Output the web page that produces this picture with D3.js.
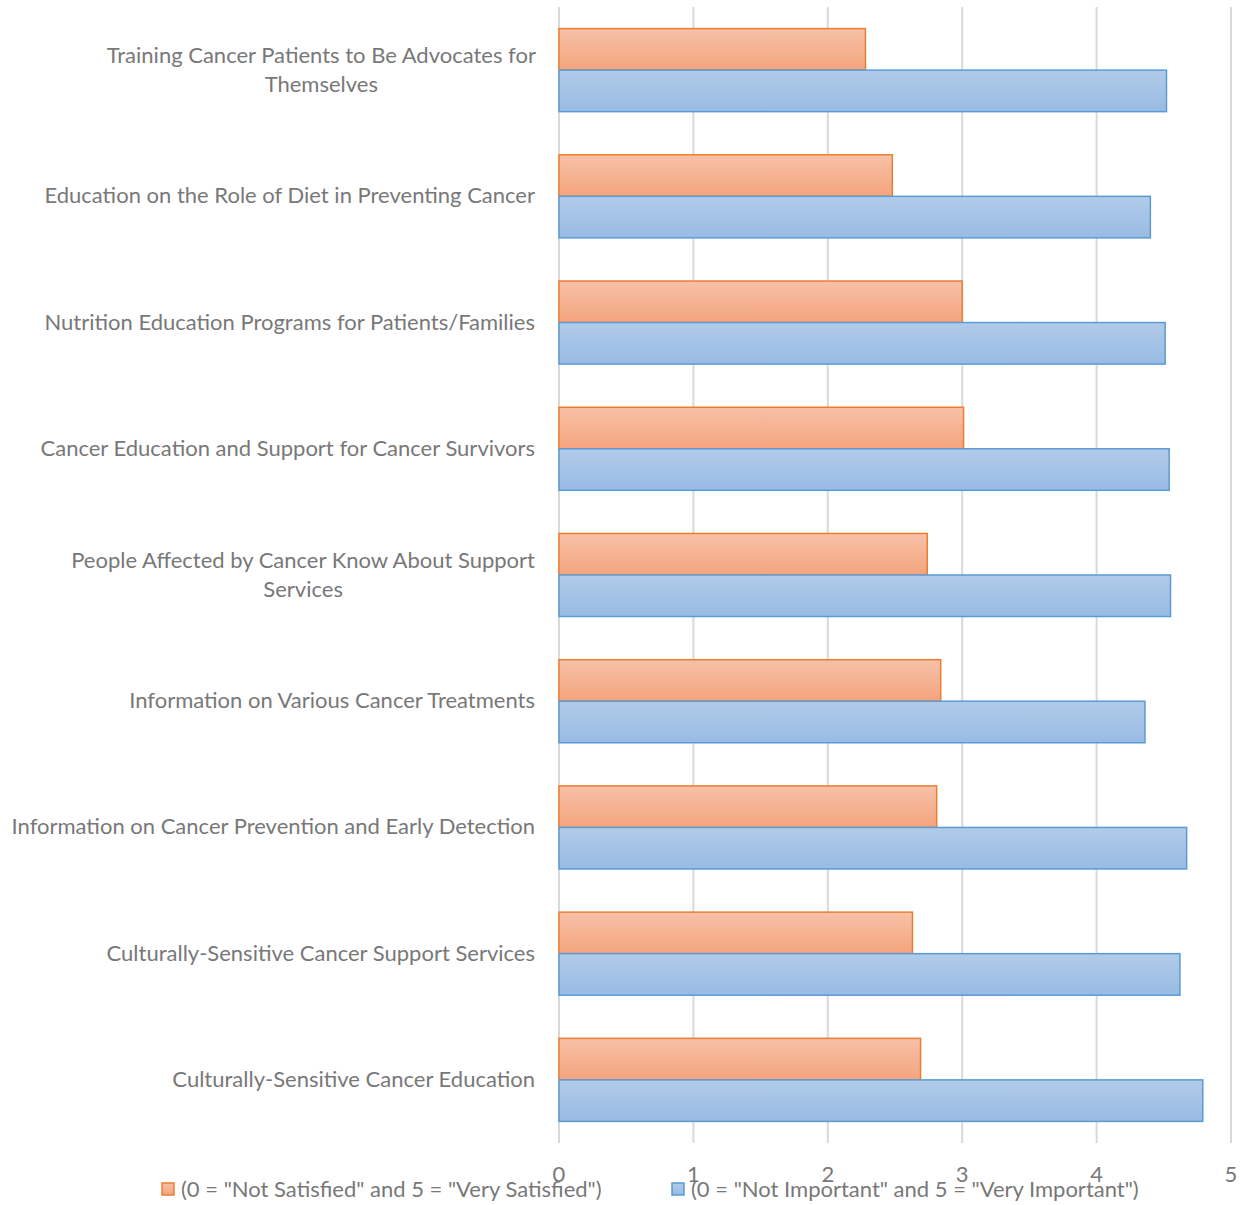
<!DOCTYPE html>
<html>
<head>
<meta charset="utf-8">
<script src="https://cdn.jsdelivr.net/npm/d3@7"></script>
<style>
  body { margin: 0; background: #fff; }
  svg { display: block; }
  text { font-family: Lato, "Open Sans", sans-serif; fill: #787878; }
</style>
</head>
<body>
<svg id="chart" width="1241" height="1205"></svg>
<script>
// categories top to bottom, each label split into its lines
var categories = [
  ["Training Cancer Patients to Be Advocates for", "Themselves"],
  ["Education on the Role of Diet in Preventing Cancer"],
  ["Nutrition Education Programs for Patients/Families"],
  ["Cancer Education and Support for Cancer Survivors"],
  ["People Affected by Cancer Know About Support", "Services"],
  ["Information on Various Cancer Treatments"],
  ["Information on Cancer Prevention and Early Detection"],
  ["Culturally-Sensitive Cancer Support Services"],
  ["Culturally-Sensitive Cancer Education"]
];
var satisfied = [2.28, 2.48, 3.00, 3.01, 2.74, 2.84, 2.81, 2.63, 2.69];
var important = [4.52, 4.40, 4.51, 4.54, 4.55, 4.36, 4.67, 4.62, 4.79];
var seriesNames = [
  '(0 = "Not Satisfied" and 5 = "Very Satisfied")',
  '(0 = "Not Important" and 5 = "Very Important")'
];
var xTicks = [0, 1, 2, 3, 4, 5];

var svg = d3.select("#chart");
var plotL = 559, plotR = 1231, plotT = 7, plotB = 1143;
var fs = 22;

var x = d3.scaleLinear().domain([0, 5]).range([plotL, plotR]);
var y = d3.scaleBand().domain(d3.range(categories.length))
  .range([plotT, plotB]).paddingInner(0.342).paddingOuter(0.171);
var sub = d3.scaleBand().domain([0, 1]).range([0, y.bandwidth()]);

var defs = svg.append("defs");
var grads = [["gOrange", "#f7c1a8", "#f4a47d"], ["gBlue", "#b1cbe9", "#98bbe4"]];
grads.forEach(function(g) {
  var lg = defs.append("linearGradient").attr("id", g[0])
    .attr("x1", 0).attr("y1", 0).attr("x2", 0).attr("y2", 1);
  lg.append("stop").attr("offset", "0%").attr("stop-color", g[1]);
  lg.append("stop").attr("offset", "100%").attr("stop-color", g[2]);
});
var fills = ["url(#gOrange)", "url(#gBlue)"];
var strokes = ["#ed7d31", "#5b9bd5"];

// gridlines
svg.append("g").selectAll("line").data(xTicks).enter().append("line")
  .attr("x1", function(d) { return x(d); }).attr("x2", function(d) { return x(d); })
  .attr("y1", plotT).attr("y2", plotB)
  .attr("stroke", "#d9d9d9").attr("stroke-width", 2);

// bars
var series = [satisfied, important];
series.forEach(function(vals, s) {
  svg.append("g").selectAll("rect").data(vals).enter().append("rect")
    .attr("x", x(0))
    .attr("y", function(d, i) { return y(i) + sub(s); })
    .attr("width", function(d) { return x(d) - x(0); })
    .attr("height", sub.bandwidth())
    .attr("fill", fills[s])
    .attr("stroke", strokes[s]).attr("stroke-width", 1.5);
});

// category labels
var labels = svg.append("g").selectAll("text").data(categories).enter().append("text")
  .attr("font-size", fs)
  .attr("text-anchor", "middle")
  .attr("y", function(d, i) { return y(i) + y.bandwidth() / 2; });
labels.each(function(lines) {
  var t = d3.select(this);
  var lh = 29;
  lines.forEach(function(line, k) {
    t.append("tspan").text(line)
      .attr("dy", k === 0 ? (-(lines.length - 1) * lh / 2 + 7) : lh);
  });
  // right-align the block, centre lines inside it
  var w = d3.max(t.selectAll("tspan").nodes(), function(n) { return n.getComputedTextLength(); });
  t.selectAll("tspan").attr("x", 535 - w / 2);
});

// tick labels
svg.append("g").selectAll("text").data(xTicks).enter().append("text")
  .attr("x", function(d) { return x(d); })
  .attr("y", 1182)
  .attr("text-anchor", "middle")
  .attr("font-size", fs)
  .text(function(d) { return d; });

// legend
var legX = [162, 672];
seriesNames.forEach(function(name, s) {
  var g = svg.append("g").attr("transform", "translate(" + legX[s] + ",1183)");
  g.append("rect").attr("width", 12).attr("height", 12)
    .attr("fill", fills[s]).attr("stroke", strokes[s]).attr("stroke-width", 1.5);
  g.append("text").attr("x", 19).attr("y", 14).attr("font-size", fs).text(name);
});
</script>
</body>
</html>
